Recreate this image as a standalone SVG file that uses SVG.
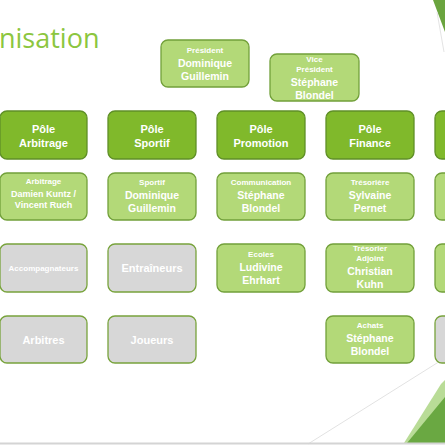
<svg xmlns="http://www.w3.org/2000/svg" width="445" height="445" viewBox="0 0 445 445">
<style>
  .bg { fill: #ffffff; }
  .dark { fill: #80b92b; stroke: #5f8f27; stroke-width: 1.3; }
  .light { fill: #b3d978; stroke: #72a03a; stroke-width: 1.3; }
  .grey { fill: #d7d7d7; stroke: #78a33c; stroke-width: 1.3; }
  text { font-family: "Liberation Sans", Arial, sans-serif; fill: #ffffff; text-anchor: middle; font-weight: bold; }
  .s { font-size: 8px; }
  .m { font-size: 9px; }
  .b { font-size: 10.5px; }
  .p { font-size: 11px; }
  .title { font-family: "Open Sans", sans-serif; font-size: 27px; fill: #8cc63f; text-anchor: start; font-weight: 400; }
</style>
<rect class="bg" x="0" y="0" width="445" height="445"/>
<g id="decor">
  <polygon points="433,0 445,0 445,32" fill="#6aa43e"/>
  <line x1="437" y1="12" x2="444" y2="52" stroke="#e4e4e4" stroke-width="1"/>
  <line x1="308" y1="444" x2="445" y2="358" stroke="#e2e2e2" stroke-width="1"/>
  <polygon points="441,384 445,380 445,443 404,443" fill="#b9dc97"/>
  <polygon points="407,443 445,443 445,397" fill="#6aa842"/>
  <line x1="0" y1="443.5" x2="445" y2="443.5" stroke="#d4d4d4" stroke-width="2"/>
</g>
<text class="title" x="-1" y="48">nisation</text>
<g id="connectors"></g>
<g id="president">
  <rect class="light" x="161" y="40" width="88" height="47" rx="7"/>
  <text class="s" x="205" y="53">Président</text>
  <text class="b" x="205" y="66.5">Dominique</text>
  <text class="b" x="205" y="79.5">Guillemin</text>
</g>
<g id="vice-president">
  <rect class="light" x="270" y="54" width="89" height="47" rx="7"/>
  <text class="s" x="314.5" y="61.5">Vice</text>
  <text class="s" x="314.5" y="71.5">Président</text>
  <text class="b" x="314.5" y="85.5">Stéphane</text>
  <text class="b" x="314.5" y="98.5">Blondel</text>
</g>
<g id="pole-arbitrage">
  <rect class="dark" x="0" y="111" width="87" height="48" rx="7"/>
  <text class="p" x="43.5" y="133">Pôle</text>
  <text class="p" x="43.5" y="146.5">Arbitrage</text>
</g>
<g id="pole-sportif">
  <rect class="dark" x="108" y="111" width="88" height="48" rx="7"/>
  <text class="p" x="152" y="133">Pôle</text>
  <text class="p" x="152" y="146.5">Sportif</text>
</g>
<g id="pole-promotion">
  <rect class="dark" x="217" y="111" width="88" height="48" rx="7"/>
  <text class="p" x="261" y="133">Pôle</text>
  <text class="p" x="261" y="146.5">Promotion</text>
</g>
<g id="pole-finance">
  <rect class="dark" x="326" y="111" width="88" height="48" rx="7"/>
  <text class="p" x="370" y="133">Pôle</text>
  <text class="p" x="370" y="146.5">Finance</text>
</g>
<g id="pole-5">
  <rect class="dark" x="435" y="111" width="88" height="48" rx="7"/>
</g>
<g id="arbitrage">
  <rect class="light" x="0" y="173" width="87" height="47" rx="7"/>
  <text class="s" x="43.5" y="184">Arbitrage</text>
  <text class="m" x="43.5" y="196.5">Damien Kuntz /</text>
  <text class="m" x="43.5" y="207.5">Vincent Ruch</text>
</g>
<g id="sportif">
  <rect class="light" x="108" y="173" width="88" height="47" rx="7"/>
  <text class="s" x="152" y="185">Sportif</text>
  <text class="b" x="152" y="199">Dominique</text>
  <text class="b" x="152" y="212">Guillemin</text>
</g>
<g id="communication">
  <rect class="light" x="217" y="173" width="88" height="47" rx="7"/>
  <text class="s" x="261" y="185">Communication</text>
  <text class="b" x="261" y="199">Stéphane</text>
  <text class="b" x="261" y="212">Blondel</text>
</g>
<g id="tresoriere">
  <rect class="light" x="326" y="173" width="88" height="47" rx="7"/>
  <text class="s" x="370" y="185">Trésorière</text>
  <text class="b" x="370" y="199">Sylvaine</text>
  <text class="b" x="370" y="212">Pernet</text>
</g>
<g id="row2-5">
  <rect class="light" x="435" y="173" width="88" height="47" rx="7"/>
</g>
<g id="accompagnateurs">
  <rect class="grey" x="0" y="244" width="87" height="48" rx="7"/>
  <text class="s" x="43.5" y="270.5">Accompagnateurs</text>
</g>
<g id="entraineurs">
  <rect class="grey" x="108" y="244" width="88" height="48" rx="7"/>
  <text class="p" x="152" y="272">Entraîneurs</text>
</g>
<g id="ecoles">
  <rect class="light" x="217" y="244" width="88" height="48" rx="7"/>
  <text class="s" x="261" y="257">Ecoles</text>
  <text class="b" x="261" y="271">Ludivine</text>
  <text class="b" x="261" y="284">Ehrhart</text>
</g>
<g id="tresorier-adjoint">
  <rect class="light" x="326" y="244" width="88" height="48" rx="7"/>
  <text class="s" x="370" y="251">Trésorier</text>
  <text class="s" x="370" y="260.5">Adjoint</text>
  <text class="b" x="370" y="274.5">Christian</text>
  <text class="b" x="370" y="287.5">Kuhn</text>
</g>
<g id="row3-5">
  <rect class="light" x="435" y="244" width="88" height="48" rx="7"/>
</g>
<g id="arbitres">
  <rect class="grey" x="0" y="316" width="87" height="47" rx="7"/>
  <text class="p" x="43.5" y="344">Arbitres</text>
</g>
<g id="joueurs">
  <rect class="grey" x="108" y="316" width="88" height="47" rx="7"/>
  <text class="p" x="152" y="344">Joueurs</text>
</g>
<g id="achats">
  <rect class="light" x="326" y="316" width="88" height="47" rx="7"/>
  <text class="s" x="370" y="328">Achats</text>
  <text class="b" x="370" y="342">Stéphane</text>
  <text class="b" x="370" y="355">Blondel</text>
</g>
<g id="row4-5">
  <rect class="grey" x="435" y="316" width="88" height="47" rx="7"/>
</g>
</svg>
